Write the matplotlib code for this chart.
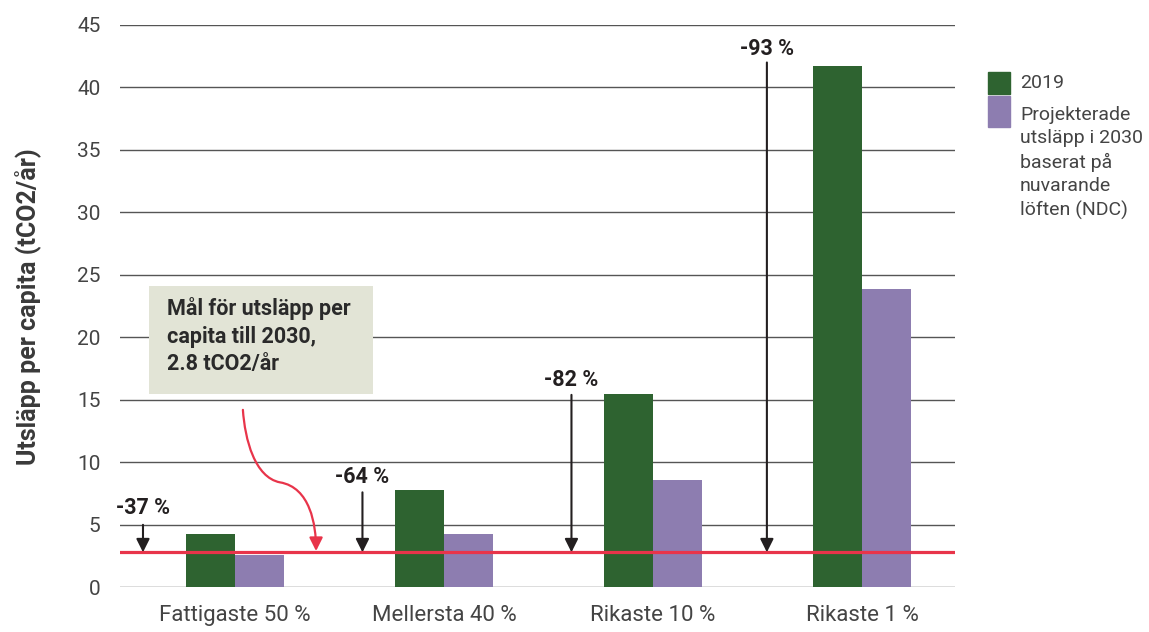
import matplotlib
matplotlib.use('Agg')
import matplotlib.pyplot as plt
from matplotlib.patches import Rectangle, FancyArrowPatch
from matplotlib.path import Path
import numpy as np

# ---- data ----
groups = ['Fattigaste 50 %', 'Mellersta 40 %', 'Rikaste 10 %', 'Rikaste 1 %']
emis_2019 = [4.3, 7.8, 15.5, 41.7]
emis_2030 = [2.6, 4.3, 8.6, 23.9]
target = 2.8
cut_labels = ['-37 %', '-64 %', '-82 %', '-93 %']
yticks = [0, 5, 10, 15, 20, 25, 30, 35, 40, 45]

GREEN = '#2e6330'
PURPLE = '#8d7db0'
RED = '#e8344a'
DARK = '#231f20'

plt.rcParams['font.family'] = ['Roboto', 'DejaVu Sans']

W, H = 1149, 632
fig = plt.figure(figsize=(W / 100, H / 100), dpi=100)
ax = fig.add_axes([120 / W, 1 - 587.3 / H, 835 / W, 562.3 / H])

x = np.arange(len(groups))
bw = 0.233
ax.bar(x - bw / 2, emis_2019, width=bw, color=GREEN, zorder=3)
ax.bar(x + bw / 2, emis_2030, width=bw, color=PURPLE, zorder=3)

ax.set_xlim(-0.55, 3.445)
ax.set_ylim(0, 45)
ax.set_yticks(yticks)
ax.set_xticks(x)
ax.set_xticklabels(groups)
ax.tick_params(axis='both', length=0)
ax.tick_params(axis='y', labelsize=15, labelcolor='#444444', pad=14)
ax.tick_params(axis='x', labelsize=16, labelcolor='#444444', pad=13)
ax.grid(axis='y', color='#555555', lw=1.0, zorder=0)
for s in ax.spines.values():
    s.set_visible(False)

ax.set_ylabel('Utsläpp per capita (tCO2/år)', fontsize=18, fontweight='bold',
              color='#3a3a3a', labelpad=26)

# target line
ax.axhline(target, color=RED, lw=2.3, zorder=4)

# reduction arrows (x offset from group centre, arrow top, label y)
arrow_dx = [-0.44, -0.39, -0.39, -0.455]
arrow_top = [5.0, 7.6, 15.4, 42.0]
label_y = [6.35, 8.8, 16.6, 43.1]
for i, lab in enumerate(cut_labels):
    xa = x[i] + arrow_dx[i]
    ax.annotate('', xy=(xa, target), xytext=(xa, arrow_top[i]),
                arrowprops=dict(arrowstyle='-|>', color=DARK, lw=1.5,
                                mutation_scale=20, shrinkA=0, shrinkB=0),
                zorder=5)
    ax.text(xa, label_y[i], lab, ha='center', va='center', fontsize=15.5,
            fontweight='bold', color=DARK, zorder=5)

# annotation box
cx = x[0]
ax.add_patch(Rectangle((cx - 0.411, 15.5), 1.071, 8.6, facecolor='#e2e4d6',
                       edgecolor='none', zorder=2))
ax.text(cx - 0.325, 23.2, 'Mål för utsläpp per\ncapita till 2030,\n2.8 tCO2/år',
        ha='left', va='top', fontsize=15.5, fontweight='bold', color='#2a2a2a',
        linespacing=1.3, zorder=3)

# curved red arrow
verts = [(cx + 0.038, 14.2), (cx + 0.048, 11.8), (cx + 0.095, 8.8), (cx + 0.215, 8.4),
         (cx + 0.36, 8.0), (cx + 0.388, 5.0), (cx + 0.388, 2.9)]
codes = [Path.MOVETO, Path.CURVE4, Path.CURVE4, Path.CURVE4,
         Path.CURVE4, Path.CURVE4, Path.CURVE4]
arr = FancyArrowPatch(path=Path(verts, codes), arrowstyle='-|>', color=RED,
                      lw=1.6, mutation_scale=20, zorder=5)
ax.add_patch(arr)

# legend drawn by hand
def px(xp, yp):
    return xp / W, 1 - yp / H

fig.add_artist(Rectangle(px(988, 94), 22 / W, 22 / H, color=GREEN,
                         transform=fig.transFigure))
fig.add_artist(Rectangle(px(988, 127), 22 / W, 31 / H, color=PURPLE,
                         transform=fig.transFigure))
fig.text(*px(1020, 83), '2019', fontsize=14, color='#444444', va='center')
fig.text(*px(1020, 106), 'Projekterade\nutsläpp i 2030\nbaserat på\nnuvarande\nlöften (NDC)',
         fontsize=14, color='#444444', va='top', linespacing=1.38)

fig.savefig('out.png', dpi=100)
